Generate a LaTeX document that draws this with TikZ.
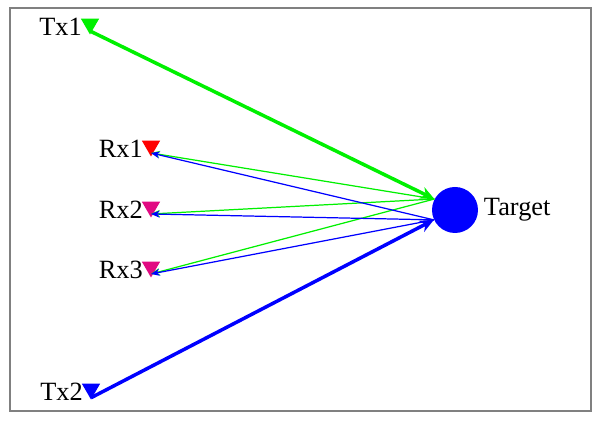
\documentclass[tikz,border=0pt]{standalone}
\usepackage{fontspec}
\setmainfont{Liberation Serif}
\usetikzlibrary{shapes.geometric,arrows.meta}
\definecolor{txgreen}{RGB}{0,240,0}
\definecolor{rxpink}{RGB}{225,10,130}
\tikzset{ant/.style={regular polygon,regular polygon sides=3,shape border rotate=180,minimum size=0.42cm,inner sep=0pt,outer sep=0pt},
lbl/.style={inner sep=1pt,font=\fontsize{15}{16}\selectfont},
fat/.style={line width=2pt,-{Stealth[length=8pt,width=7pt]}},
thin/.style={line width=0.7pt,-{Stealth[length=5pt,width=4pt]}}}

\begin{document}
\begin{tikzpicture}[x=0.02cm,y=-0.02cm]
    \useasboundingbox (0,0) rectangle (599,421);
    \draw[gray,line width=0.8pt] (10,8) rectangle (591,411);
    \node[ant,fill=txgreen] (tx1) at (90,24) {};
    \node[ant,fill=red] (rx1) at (151,146) {};
    \node[ant,fill=rxpink] (rx2) at (151,207) {};
    \node[ant,fill=rxpink] (rx3) at (151,267) {};
    \node[ant,fill=blue] (tx2) at (91,389) {};
    \node[circle,fill=blue,minimum size=0.92cm,inner sep=0pt] (T) at (455,210) {};
    \node[lbl,anchor=east] at (tx1.west |- 0,27) {Tx1};
    \node[lbl,anchor=east] at (rx1.west |- 0,149) {Rx1};
    \node[lbl,anchor=east] at (rx2.west |- 0,210) {Rx2};
    \node[lbl,anchor=east] at (rx3.west |- 0,270) {Rx3};
    \node[lbl,anchor=east] at (tx2.west |- 0,392) {Tx2};
    \node[lbl,anchor=west,inner sep=3pt] at (T.east) {Target};
    \draw[fat,txgreen] ([yshift=2pt]tx1.corner 1) -- (T.152);
    \draw[fat,blue] ([yshift=1pt]tx2.corner 1) -- (T.205);
    \foreach \r in {rx1,rx2,rx3}
      \draw[thin,txgreen] (T.152) -- ([yshift=2pt]\r.corner 1);
    \foreach \r in {rx1,rx2,rx3}
      \draw[thin,blue] (T.205) -- ([yshift=2pt]\r.corner 1);
\end{tikzpicture}
\end{document}
